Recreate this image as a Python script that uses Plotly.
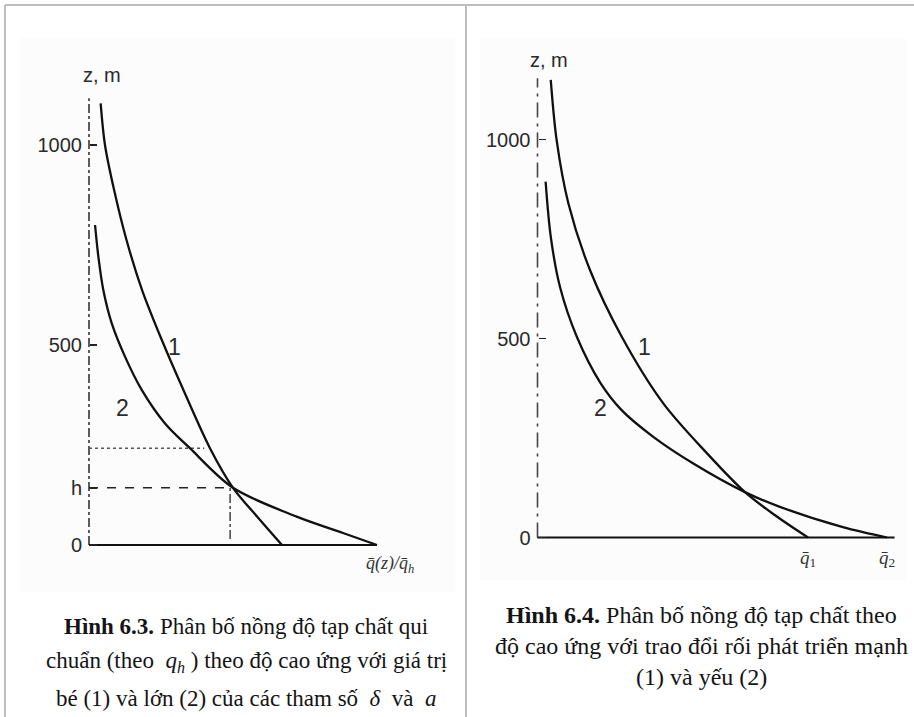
import plotly.graph_objects as go

W, H = 914, 717

# ---------------- data ----------------
# Left panel (Hinh 6.3): x = q(z)/q_h, z in metres
h_level = 143
left_c1_x = [0.081, 0.111, 0.174, 0.26, 0.368, 0.505, 0.655, 0.84, 1.0, 1.17, 1.34]
left_c1_z = [1104, 1000, 888, 763, 638, 513, 388, 242, 143, 70, 0]
left_c2_x = [0.042, 0.065, 0.099, 0.158, 0.25, 0.366, 0.528, 0.701, 1.0, 1.442, 1.764, 2.0]
left_c2_z = [800, 721, 638, 554, 471, 388, 304, 242, 143, 71, 30, 0]
left_yaxis_x = [0, 0]
left_yaxis_z = [0, 1117]
left_xaxis_x = [0, 2.0]
left_xaxis_z = [0, 0]
left_dotted_x = [0, 0.80]
left_dotted_z = [242, 242]
left_hline_x = [0, 1.0]
left_hline_z = [h_level, h_level]
left_vline_x = [0.98, 0.98]
left_vline_z = [15, h_level]
left_ytick_vals = [0, h_level, 500, 1000]
left_ytick_text = ["0", "h", "500", "1000"]

# Right panel (Hinh 6.4)
right_c1_x = [0.049, 0.071, 0.114, 0.194, 0.311, 0.465, 0.626, 0.767, 0.882, 1.0]
right_c1_z = [1150, 997, 840, 672, 505, 337, 212, 114, 54, 0]
right_c2_x = [0.030, 0.049, 0.083, 0.145, 0.233, 0.311, 0.428, 0.576, 0.767, 0.896, 1.129, 1.292]
right_c2_z = [894, 756, 630, 505, 388, 320, 253, 186, 114, 77, 26, 0]
right_yaxis_x = [0, 0]
right_yaxis_z = [0, 1154]
right_xaxis_x = [0, 1.32]
right_xaxis_z = [0, 0]
right_ytick_vals = [0, 500, 1000]
right_ytick_text = ["0", "500", "1000"]
right_xtick_vals = [1.0, 1.292]
right_xtick_text = ["<i>q̄</i><sub>1</sub>", "<i>q̄</i><sub>2</sub>"]

curve_labels_left = [(0.597, 494, "1"), (0.234, 342, "2")]
curve_labels_right = [(0.397, 479, "1"), (0.234, 325, "2")]

caption_left = [
    "<b>Hình 6.3.</b> Phân bố nồng độ tạp chất qui",
    "chuẩn (theo  <i>q<sub>h</sub></i> ) theo độ cao ứng với giá trị",
    "bé (1) và lớn (2) của các tham số  <i>δ</i>  và  <i>a</i>",
]
caption_right = [
    "<b>Hình 6.4.</b> Phân bố nồng độ tạp chất theo",
    "độ cao ứng với trao đổi rối phát triển mạnh",
    "(1) và yếu (2)",
]

# ---------------- helpers (layout only) ----------------
def px(x):
    return x / W

def py(y):
    return 1 - y / H

SANS = "Liberation Sans, Arial, sans-serif"
SERIF = "Liberation Serif, Times New Roman, serif"
INK = "#111111"

# left mapping: origin (89,545), 144 px/unit, 0.4 px/m
L_ox, L_oy, L_sx, L_sz = 89, 545, 144, 0.4
L_xr = [-0.1, 2.45]
L_zr = [-30, 1150]
# right mapping: origin (537.5,537.5), 270.5 px/unit, 0.398 px/m
R_ox, R_oy, R_sx, R_sz = 537.5, 537.5, 270.5, 0.398
R_xr = [-0.1, 1.35]
R_zr = [-30, 1175]

fig = go.Figure()

line_main = dict(color=INK, width=2.3, shape="spline", smoothing=0.9)

# left traces
fig.add_trace(go.Scatter(x=left_yaxis_x, y=left_yaxis_z, mode="lines",
                         line=dict(color="#333", width=1.6, dash="dashdot"), xaxis="x", yaxis="y"))
fig.add_trace(go.Scatter(x=left_xaxis_x, y=left_xaxis_z, mode="lines",
                         line=dict(color=INK, width=2.2), xaxis="x", yaxis="y"))
fig.add_trace(go.Scatter(x=left_dotted_x, y=left_dotted_z, mode="lines",
                         line=dict(color="#555", width=1.6, dash="dot"), xaxis="x", yaxis="y"))
fig.add_trace(go.Scatter(x=left_hline_x, y=left_hline_z, mode="lines",
                         line=dict(color="#222", width=1.6, dash="dash"), xaxis="x", yaxis="y"))
fig.add_trace(go.Scatter(x=left_vline_x, y=left_vline_z, mode="lines",
                         line=dict(color="#333", width=1.4, dash="dashdot"), xaxis="x", yaxis="y"))
fig.add_trace(go.Scatter(x=left_c1_x, y=left_c1_z, mode="lines", line=line_main, xaxis="x", yaxis="y"))
fig.add_trace(go.Scatter(x=left_c2_x, y=left_c2_z, mode="lines", line=line_main, xaxis="x", yaxis="y"))

# right traces
fig.add_trace(go.Scatter(x=right_yaxis_x, y=right_yaxis_z, mode="lines",
                         line=dict(color="#444", width=1.6, dash="longdashdot"), xaxis="x2", yaxis="y2"))
fig.add_trace(go.Scatter(x=right_xaxis_x, y=right_xaxis_z, mode="lines",
                         line=dict(color=INK, width=2.2), xaxis="x2", yaxis="y2"))
fig.add_trace(go.Scatter(x=right_c1_x, y=right_c1_z, mode="lines", line=line_main, xaxis="x2", yaxis="y2"))
fig.add_trace(go.Scatter(x=right_c2_x, y=right_c2_z, mode="lines", line=line_main, xaxis="x2", yaxis="y2"))

def dom_x(ox, sx, r):
    return [px(ox + sx * r[0]), px(ox + sx * r[1])]

def dom_y(oy, sz, r):
    return [py(oy - sz * r[0]), py(oy - sz * r[1])]

tickfont = dict(family=SANS, size=20, color="#2a2a2a")

fig.update_layout(
    width=W, height=H,
    margin=dict(l=0, r=0, t=0, b=0),
    paper_bgcolor="white",
    plot_bgcolor="rgba(0,0,0,0)",
    showlegend=False,
    hovermode=False,
    xaxis=dict(domain=dom_x(L_ox, L_sx, L_xr), range=L_xr, visible=False, fixedrange=True),
    yaxis=dict(domain=dom_y(L_oy, L_sz, L_zr), range=L_zr, anchor="free", position=px(L_ox),
               showgrid=False, zeroline=False, showline=False,
               tickmode="array", tickvals=left_ytick_vals, ticktext=left_ytick_text,
               ticks="inside", ticklen=7, tickwidth=1.6, tickcolor="#222",
               tickfont=tickfont, ticklabelstandoff=7),
    xaxis2=dict(domain=dom_x(R_ox, R_sx, R_xr), range=R_xr, anchor="free", position=py(R_oy),
                showgrid=False, zeroline=False, showline=False, ticks="",
                tickmode="array", tickvals=right_xtick_vals, ticktext=right_xtick_text,
                tickfont=dict(family=SERIF, size=19, color="#333"), ticklabelstandoff=6),
    yaxis2=dict(domain=dom_y(R_oy, R_sz, R_zr), range=R_zr, anchor="free", position=px(R_ox),
                showgrid=False, zeroline=False, showline=False,
                tickmode="array", tickvals=right_ytick_vals, ticktext=right_ytick_text,
                ticks="inside", ticklen=7, tickwidth=1.6, tickcolor="#222",
                tickfont=tickfont, ticklabelstandoff=7),
)

shapes = [
    # faint scanned-image backgrounds
    dict(type="rect", xref="paper", yref="paper", x0=px(20), x1=px(455), y0=py(592), y1=py(38),
         fillcolor="#fcfcfc", line=dict(width=0), layer="below"),
    dict(type="rect", xref="paper", yref="paper", x0=px(480), x1=px(906), y0=py(580), y1=py(38),
         fillcolor="#fcfcfc", line=dict(width=0), layer="below"),
    # table frame
    dict(type="line", xref="paper", yref="paper", x0=px(5), x1=px(914), y0=py(5), y1=py(5),
         line=dict(color="#bdbdbd", width=2)),
    dict(type="line", xref="paper", yref="paper", x0=px(5), x1=px(5), y0=py(5), y1=py(717),
         line=dict(color="#bdbdbd", width=2)),
    dict(type="line", xref="paper", yref="paper", x0=px(466), x1=px(466), y0=py(5), y1=py(717),
         line=dict(color="#bdbdbd", width=2)),
]
fig.update_layout(shapes=shapes)

ann = []

def add_paper_text(text, x, y, font):
    ann.append(dict(text=text, x=px(x), y=py(y), xref="paper", yref="paper", showarrow=False,
                    xanchor="center", yanchor="middle", font=font))

# axis titles
add_paper_text("z, m", 102, 75, dict(family=SANS, size=20, color="#2a2a2a"))
add_paper_text("z, m", 549, 60, dict(family=SANS, size=20, color="#2a2a2a"))
add_paper_text("<i>q̄(z)/q̄<sub>h</sub></i>", 390, 564, dict(family=SERIF, size=18, color="#333"))
# curve numbers
for (x, z, t) in curve_labels_left:
    ann.append(dict(text=t, x=x, y=z, xref="x", yref="y", showarrow=False,
                    xanchor="center", yanchor="middle",
                    font=dict(family=SANS, size=23, color="#2a2a2a")))
for (x, z, t) in curve_labels_right:
    ann.append(dict(text=t, x=x, y=z, xref="x2", yref="y2", showarrow=False,
                    xanchor="center", yanchor="middle",
                    font=dict(family=SANS, size=23, color="#2a2a2a")))
# captions
for t, yy in zip(caption_left, [626, 662, 698]):
    add_paper_text(t, 246, yy, dict(family=SERIF, size=23, color="#141414"))
for t, yy in zip(caption_right, [615, 646, 677]):
    add_paper_text(t, 701, yy, dict(family=SERIF, size=24, color="#141414"))
fig.update_layout(annotations=ann)

fig.write_html(
    "out.html",
    config={"displayModeBar": False, "staticPlot": True},
    post_script="document.body.style.margin='0px';document.body.style.padding='0px';"
                "document.documentElement.style.overflow='hidden';",
)
